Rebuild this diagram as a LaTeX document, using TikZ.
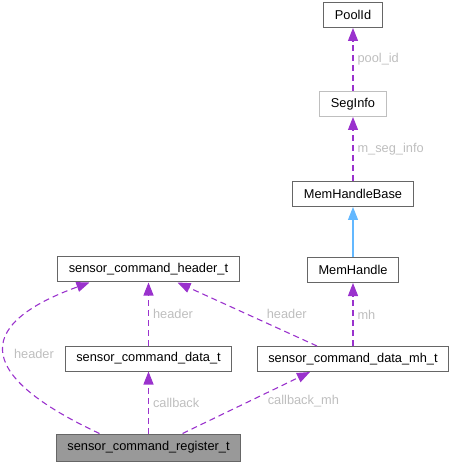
\documentclass[tikz,border=0pt]{standalone}
\usepackage{fontspec}
\setmainfont{Liberation Sans}
\usetikzlibrary{arrows.meta,positioning}
\definecolor{edgegray}{RGB}{102,102,102}
\definecolor{lightedge}{RGB}{191,191,191}
\definecolor{regfill}{RGB}{153,153,153}
\definecolor{purple2}{RGB}{154,50,205}
\definecolor{blue2}{RGB}{99,184,255}
\definecolor{labelgray}{RGB}{190,190,190}
\tikzset{
  structbox/.style={draw=edgegray, line width=1bp, inner xsep=11bp,
    minimum height=25bp, align=center, fill=white,
    font=\fontsize{12.8bp}{15bp}\selectfont},
  rootbox/.style={structbox, fill=regfill, minimum height=27bp},
  linkbox/.style={structbox, draw=lightedge},
  usage/.style={-{Triangle[length=13bp,width=10bp]}, line width=1.1bp,
    color=purple2, dash pattern=on 6bp off 4bp},
  inherit/.style={-{Triangle[length=13bp,width=10bp]}, line width=1.1bp,
    color=blue2},
  lbl/.style={text=labelgray, anchor=west, inner sep=1bp,
    font=\fontsize{12.8bp}{15bp}\selectfont}
}

\begin{document}
\begin{tikzpicture}[x=1bp, y=-1bp]
\useasboundingbox (0,0) rectangle (455,466);

\node[rootbox] (reg) at (148.5,447.5) {sensor\_command\_register\_t};
\node[structbox, above=62bp of reg] (data) {sensor\_command\_data\_t};
\node[structbox, above=63bp of data] (hdr) {sensor\_command\_header\_t};
\node[structbox] (datamh) at (353,359) {sensor\_command\_data\_mh\_t};
\node[structbox, above=63bp of datamh] (mh) {MemHandle};
\node[structbox, above=50bp of mh] (mhbase) {MemHandleBase};
\node[linkbox, above=64bp of mhbase] (seg) {SegInfo};
\node[structbox, above=63bp of seg] (pool) {PoolId};

% usage links
\draw[usage] ([xshift=-49bp]reg.north) to[out=155, in=200, looseness=2.2]
  node[lbl, pos=0.5, xshift=8bp] {header} ([xshift=-59bp]hdr.south);
\draw[usage] (reg) -- node[lbl, xshift=3bp] {callback} (data);
\draw[usage] ([xshift=34bp]reg.north) -- node[lbl, xshift=20bp, yshift=2bp] {callback\_mh}
  ([xshift=-43bp]datamh.south);
\draw[usage] (data) -- node[lbl, xshift=3bp] {header} (hdr);
\draw[usage] ([xshift=-36bp]datamh.north) -- node[lbl, xshift=18bp] {header}
  ([xshift=29bp]hdr.south);
\draw[usage] (datamh) -- node[lbl, xshift=3bp] {mh} (mh);
\draw[inherit] (mh) -- (mhbase);
\draw[usage] (mhbase) -- node[lbl, xshift=3bp] {m\_seg\_info} (seg);
\draw[usage] (seg) -- node[lbl, xshift=3bp] {pool\_id} (pool);
\end{tikzpicture}
\end{document}
